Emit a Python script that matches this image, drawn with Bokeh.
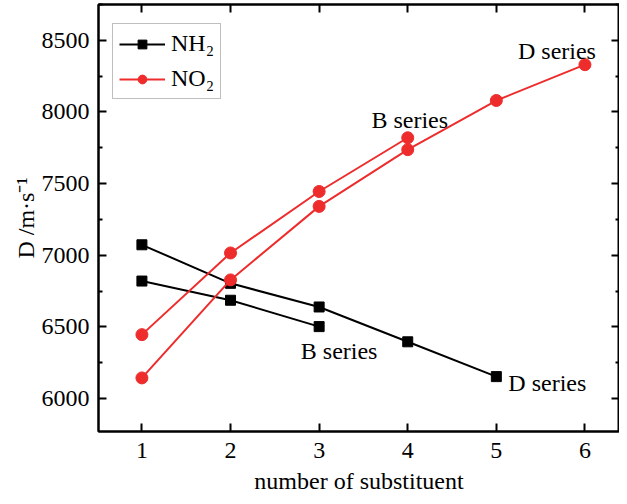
from bokeh.plotting import figure
from bokeh.models import (Range1d, LinearAxis, FixedTicker, Legend, LegendItem, Label,
                          CustomJSTickFormatter)
from bokeh.embed import file_html
from bokeh.resources import INLINE

# ---- data ----
x_nh2_d = [1, 2, 3, 4, 5]
y_nh2_d = [7073, 6804, 6639, 6396, 6153]
x_nh2_b = [1, 2, 3]
y_nh2_b = [6820, 6686, 6502]
x_no2_b = [1, 2, 3, 4]
y_no2_b = [6446, 7016, 7445, 7820]
x_no2_d = [1, 2, 3, 4, 5, 6]
y_no2_d = [6144, 6828, 7341, 7737, 8080, 8330]
x_ticks = [1, 2, 3, 4, 5, 6]
y_ticks = [6000, 6500, 7000, 7500, 8000, 8500]
legend_labels = ["NH\u2082", "NO\u2082"]
x_title = "number of substituent"
y_title = "D /m\u00b7s\u207b\u00b9"

FONT = "Liberation Serif"
BLACK = "#000000"
RED = "#ee2c2c"

p = figure(width=619, height=496, output_backend="svg", toolbar_location=None,
           x_range=Range1d(0.51, 6.39), y_range=Range1d(5770, 8750),
           min_border_left=98, min_border_right=0, min_border_top=4, min_border_bottom=60)
p.background_fill_color = "white"
p.border_fill_color = "white"
p.grid.visible = False
p.outline_line_color = "black"
p.outline_line_width = 2

minor_y = [t + 250 for t in y_ticks[:-1]] + [y_ticks[-1] + 250]
xt = FixedTicker(ticks=x_ticks, minor_ticks=[])
yt = FixedTicker(ticks=y_ticks, minor_ticks=minor_y)


def style(ax, show_labels):
    ax.axis_line_width = 2
    ax.axis_line_color = "black"
    ax.major_tick_in = 8
    ax.major_tick_out = 0
    ax.minor_tick_in = 4
    ax.minor_tick_out = 0
    ax.major_tick_line_width = 2
    ax.minor_tick_line_width = 2
    ax.major_label_text_font = FONT
    ax.axis_label_text_font = FONT
    ax.axis_label_text_font_style = "normal"
    ax.axis_label_text_color = "black"
    ax.major_label_text_color = "black"
    ax.major_label_text_font_size = "24px"
    ax.axis_label_text_font_size = "24px"
    if not show_labels:
        ax.formatter = CustomJSTickFormatter(code="return ''")
        ax.major_label_standoff = 0


p.xaxis.ticker = xt
p.yaxis.ticker = yt
style(p.xaxis[0], True)
style(p.yaxis[0], True)
p.xaxis.axis_label = x_title
p.yaxis.axis_label = y_title
p.xaxis.major_label_standoff = 11
p.xaxis.axis_label_standoff = 7
p.yaxis.major_label_standoff = 9
p.yaxis.axis_label_standoff = 0

top = LinearAxis(ticker=xt)
right = LinearAxis(ticker=yt)
style(top, False)
style(right, False)
p.add_layout(top, "above")
p.add_layout(right, "right")

# ---- series ----
l1 = p.line(x_nh2_d, y_nh2_d, line_color=BLACK, line_width=2)
s1 = p.scatter(x_nh2_d, y_nh2_d, marker="square", size=10, fill_color=BLACK, line_color=BLACK)
l2 = p.line(x_nh2_b, y_nh2_b, line_color=BLACK, line_width=2)
s2 = p.scatter(x_nh2_b, y_nh2_b, marker="square", size=10, fill_color=BLACK, line_color=BLACK)
l3 = p.line(x_no2_b, y_no2_b, line_color=RED, line_width=2)
s3 = p.scatter(x_no2_b, y_no2_b, marker="circle", size=12, fill_color=RED, line_color=RED)
l4 = p.line(x_no2_d, y_no2_d, line_color=RED, line_width=2)
s4 = p.scatter(x_no2_d, y_no2_d, marker="circle", size=12, fill_color=RED, line_color=RED)

legend = Legend(items=[LegendItem(label=legend_labels[0], renderers=[l1, s1]),
                       LegendItem(label=legend_labels[1], renderers=[l3, s3])],
                location=(14, 332), padding=6, spacing=8,
                glyph_width=46, glyph_height=22, label_height=22, label_standoff=6,
                label_text_font=FONT, label_text_font_size="24px",
                label_text_color="black",
                border_line_color="#808080", border_line_width=1.5,
                background_fill_alpha=1.0)
p.add_layout(legend)

# ---- series annotations ----
def lab(text, x, y, dx, dy):
    p.add_layout(Label(x=x, y=y, x_offset=dx, y_offset=dy, text=text,
                       text_font=FONT, text_font_size="24px", text_align="center",
                       text_baseline="middle", text_color="black"))

lab("D series", x_no2_d[-1], y_no2_d[-1], -28, 14)
lab("B series", x_no2_b[-1], y_no2_b[-1], 2, 18)
lab("B series", x_nh2_b[-1], y_nh2_b[-1], 20, -24)
lab("D series", x_nh2_d[-1], y_nh2_d[-1], 51, -6)

open("out.html", "w").write(file_html(p, INLINE))
